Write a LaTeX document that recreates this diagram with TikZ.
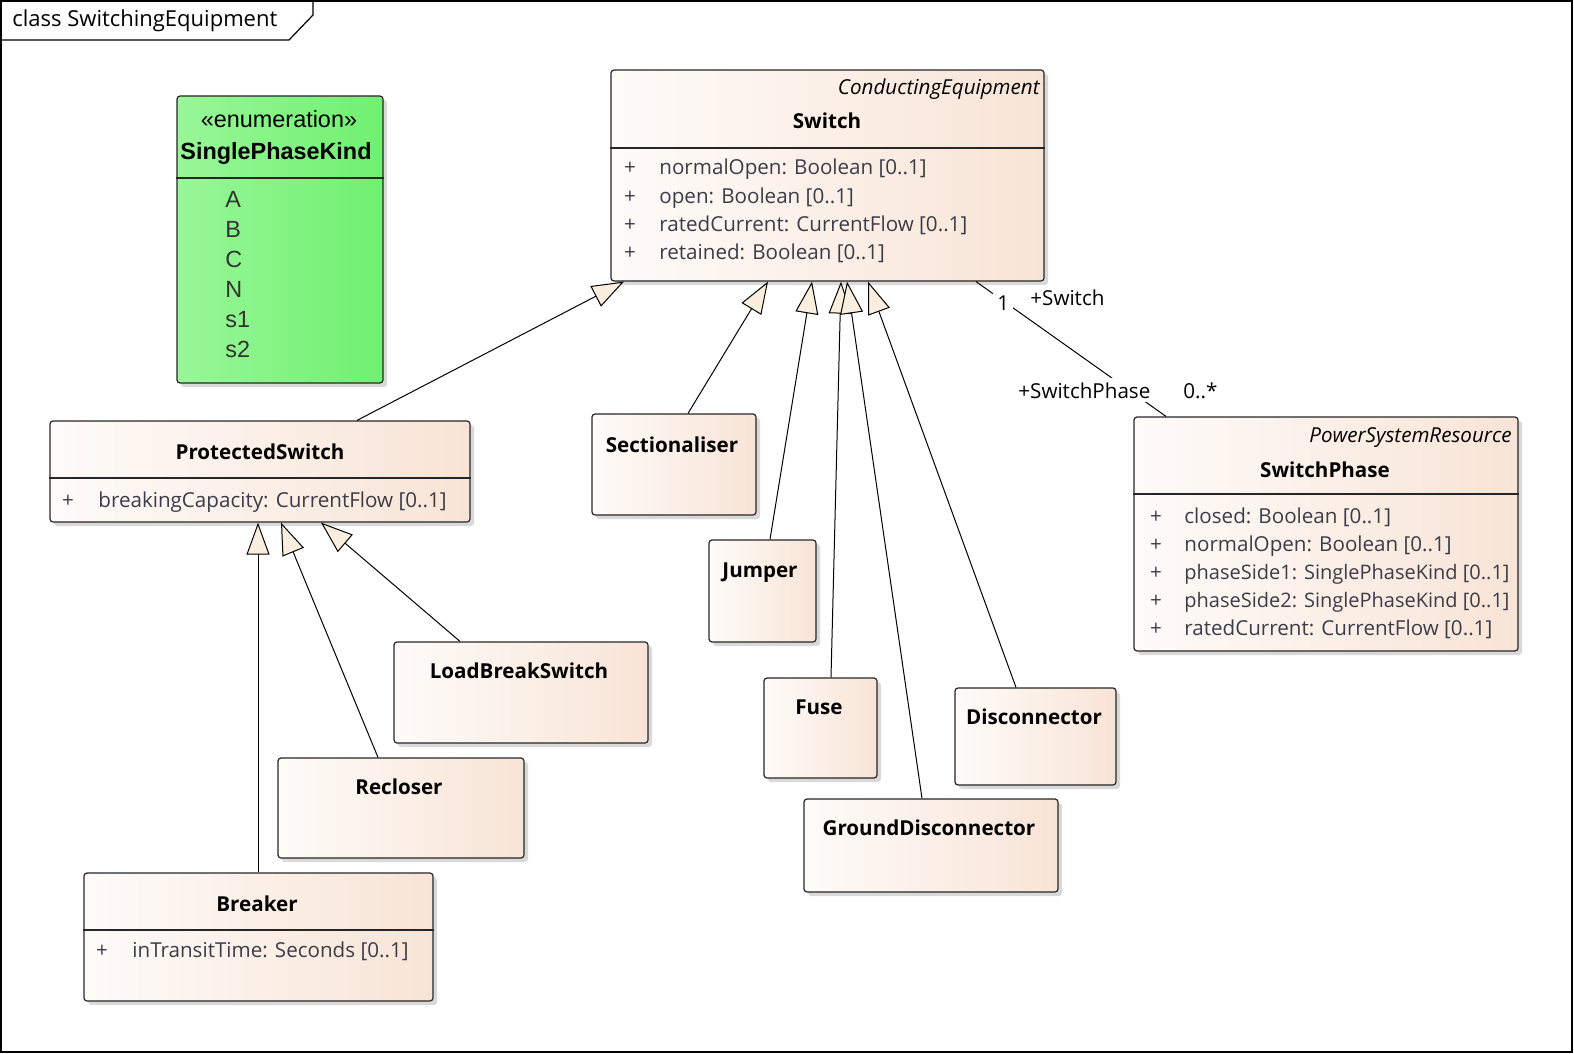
\documentclass[tikz,border=0pt]{standalone}
\usepackage{fontspec}
\setmainfont{Open Sans}
\newfontfamily\enumfont{Liberation Sans}
\usetikzlibrary{arrows.meta, fit, shadows}
\definecolor{clsleft}{RGB}{254,251,249}
\definecolor{clsright}{RGB}{248,228,214}
\definecolor{enumleft}{RGB}{152,247,152}
\definecolor{enumright}{RGB}{112,240,112}
\definecolor{genfill}{RGB}{250,238,222}
\definecolor{attrcol}{RGB}{60,60,72}

\tikzset{
  cls/.style={draw=black!85, line width=0.6pt, rounded corners=1.5pt, inner sep=0pt,
    left color=clsleft, right color=clsright,
    drop shadow={shadow xshift=2pt, shadow yshift=-2pt, fill=black!25, opacity=0.6}},
  enumbox/.style={cls, left color=enumleft, right color=enumright},
  cname/.style={font=\fontsize{10.3}{12}\selectfont\bfseries, anchor=base, inner sep=0pt},
  stereo/.style={font=\fontsize{10.3}{12}\selectfont\itshape, anchor=base east, inner sep=0pt},
  attr/.style={font=\fontsize{10.3}{12}\selectfont, text=attrcol, anchor=base west, inner sep=0pt},
  vis/.style={attr, anchor=base},
  lit/.style={font=\enumfont\fontsize{11.7}{14}\selectfont, text=black!80, anchor=base west, inner sep=0pt},
  sep/.style={line width=0.6pt, draw=black!85},
  gen/.style={line width=0.5pt, -{Triangle[length=16pt, width=11.5pt, fill=genfill]}},
  assoc/.style={line width=0.5pt},
  role/.style={font=\fontsize{10.3}{12}\selectfont, anchor=base west, fill=white, inner sep=2pt},
}

\begin{document}
\begin{tikzpicture}[x=0.5pt, y=-0.5pt]
  \useasboundingbox (0,0) rectangle (1574,1054);
  % frame and its tab
  \draw[line width=0.6pt] (1,1) rectangle (1572,1052);
  \draw[line width=0.6pt] (1,40) -- (289,40) -- (313,15) -- (313,1);
  \node[anchor=base west, inner sep=0pt, font=\fontsize{11}{13}\selectfont] (title) at (12,27) {class SwitchingEquipment};

  % enumeration
  \node[enumbox, fit={(177,96) (383,383)}] (spk) {};
  \draw[sep] (spk.west |- 0,178) -- (spk.east |- 0,178);
  \node[font=\enumfont\fontsize{11.7}{14}\selectfont, anchor=base, inner sep=0pt] (spkst) at (279,127) {«enumeration»};
  \node[font=\enumfont\fontsize{11.7}{14}\selectfont\bfseries, anchor=base, inner sep=0pt] (spkn) at (276,160) {SinglePhaseKind};
  \foreach \t [count=\i] in {A, B, C, N, s1, s2}
    \node[lit] (spkl\i) at (225,{177+30*\i}) {\t};

  % Switch
  \node[cls, fit={(611,70) (1044,281)}] (sw) {};
  \draw[sep] (sw.west |- 0,148) -- (sw.east |- 0,148);
  \node[stereo] (swst) at (1040,95) {ConductingEquipment};
  \node[cname] (swn) at (827,129) {Switch};
  \foreach \t [count=\i] in {{normalOpen: Boolean [0..1]}, {open: Boolean [0..1]},
      {ratedCurrent: CurrentFlow [0..1]}, {retained: Boolean [0..1]}} {
    \node[vis] (swv\i) at (630,{147+28*\i}) {+};
    \node[attr] (swa\i) at (659,{147+28*\i}) {\t};
  }

  % SwitchPhase
  \node[cls, fit={(1134,417) (1518,651)}] (sph) {};
  \draw[sep] (sph.west |- 0,494) -- (sph.east |- 0,494);
  \node[stereo] (sphst) at (1512,442) {PowerSystemResource};
  \node[cname] (sphn) at (1325,477) {SwitchPhase};
  \foreach \t [count=\i] in {{closed: Boolean [0..1]}, {normalOpen: Boolean [0..1]},
      {\fontsize{10}{12}\selectfont phaseSide1: SinglePhaseKind [0..1]},
      {\fontsize{10}{12}\selectfont phaseSide2: SinglePhaseKind [0..1]},
      {ratedCurrent: CurrentFlow [0..1]}} {
    \node[vis] (sphv\i) at (1156,{495+28*\i}) {+};
    \node[attr] (spha\i) at (1184,{495+28*\i}) {\t};
  }

  % ProtectedSwitch
  \node[cls, fit={(50,421) (470,522)}] (ps) {};
  \draw[sep] (ps.west |- 0,478) -- (ps.east |- 0,478);
  \node[cname] (psn) at (260,459) {ProtectedSwitch};
  \node[vis] (psv) at (68,507) {+};
  \node[attr] (psa) at (98,507) {breakingCapacity: CurrentFlow [0..1]};

  % Breaker
  \node[cls, fit={(84,873) (433,1001)}] (brk) {};
  \draw[sep] (brk.west |- 0,930) -- (brk.east |- 0,930);
  \node[cname] (brkn) at (257,911) {Breaker};
  \node[vis] (brkv) at (102,957) {+};
  \node[attr] (brka) at (132,957) {inTransitTime: Seconds [0..1]};

  % classes without attributes
  \node[cls, fit={(592,414) (756,515)}] (sec) {};
  \node[cname] (secn) at (672,452) {Sectionaliser};
  \node[cls, fit={(709,540) (816,642)}] (jmp) {};
  \node[cname] (jmpn) at (760,577) {Jumper};
  \node[cls, fit={(764,678) (877,778)}] (fuse) {};
  \node[cname] (fusen) at (819,714) {Fuse};
  \node[cls, fit={(955,688) (1116,785)}] (dis) {};
  \node[cname] (disn) at (1034,724) {Disconnector};
  \node[cls, fit={(804,799) (1058,892)}] (gd) {};
  \node[cname] (gdn) at (929,835) {GroundDisconnector};
  \node[cls, fit={(394,642) (648,743)}] (lbs) {};
  \node[cname] (lbsn) at (519,678) {LoadBreakSwitch};
  \node[cls, fit={(278,758) (524,858)}] (rec) {};
  \node[cname] (recn) at (399,794) {Recloser};

  % generalisations
  \draw[gen] (ps.north -| 357,0) -- (sw.south -| 624,0);
  \draw[gen] (sec.north -| 688,0) -- (sw.south -| 768,0);
  \draw[gen] (jmp.north -| 770,0) -- (sw.south -| 812,0);
  \draw[gen] (fuse.north -| 831,0) -- (sw.south -| 841,0);
  \draw[gen] (gd.north -| 922,0) -- (sw.south -| 847,0);
  \draw[gen] (dis.north -| 1016,0) -- (sw.south -| 868,0);
  \draw[gen] (brk.north -| 258,0) -- (ps.south -| 258,0);
  \draw[gen] (rec.north -| 378,0) -- (ps.south -| 281,0);
  \draw[gen] (lbs.north -| 460,0) -- (ps.south -| 321,0);

  % association
  \draw[assoc] (sw.south -| 976,0) -- (sph.north -| 1166,0);
  \node[role] (mulsw) at (993,310) {1};
  \node[role] (rolesw) at (1026,305) {+Switch};
  \node[role] (rolesph) at (1014,398) {+SwitchPhase};
  \node[role, fill=none] (mulsph) at (1179,398) {0..*};
\end{tikzpicture}
\end{document}
